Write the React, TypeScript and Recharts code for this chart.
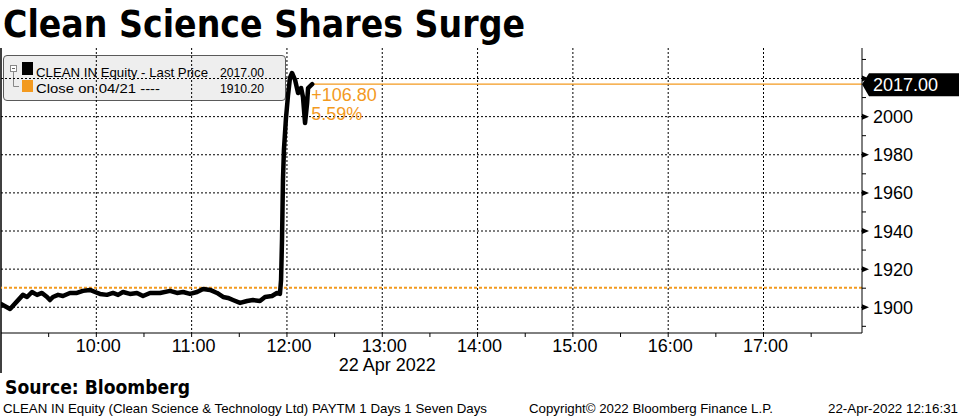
import React from 'react';
import { ComposedChart, Line, XAxis, YAxis, CartesianGrid, ReferenceLine, ReferenceDot, Customized } from 'recharts';

// minutes after 09:00 on 22 Apr 2022
const times = [0, 5.7, 13.8, 16.4, 19.5, 22.7, 25.8, 29.0, 30.8, 32.7, 35.9, 39.0, 43.4, 47.8, 51.6, 56.0, 59.2, 62.3, 66.7, 70.5, 73.7, 76.8, 81.2, 85.6, 89.4, 93.8, 100.1, 106.4, 110.8, 114.6, 119.0, 123.4, 127.2, 131.6, 136.0, 139.8, 142.9, 146.0, 150.5, 154.9, 158.6, 163.0, 166.2, 170.6, 173.7, 175.6, 176.3, 176.9, 177.5, 178.1, 179.4, 180.7, 181.9, 183.2, 185.1, 187.0, 188.9, 190.1, 191.4, 192.7, 193.3, 195.9];
const prices = [1901.7, 1899.1, 1906.5, 1905.4, 1908.0, 1906.5, 1907.5, 1905.4, 1903.8, 1905.4, 1906.5, 1905.9, 1907.5, 1907.5, 1908.6, 1909.1, 1908.0, 1907.0, 1906.5, 1907.5, 1906.5, 1908.0, 1907.0, 1907.5, 1905.9, 1907.5, 1907.5, 1908.6, 1907.5, 1908.0, 1907.0, 1908.0, 1909.6, 1909.1, 1907.5, 1905.4, 1904.9, 1903.8, 1902.3, 1903.3, 1903.8, 1903.3, 1905.4, 1905.9, 1907.5, 1907.0, 1914.3, 1935.3, 1966.8, 1982.5, 1999.3, 2011.4, 2020.3, 2022.9, 2019.3, 2012.4, 2015.0, 2010.3, 1996.6, 2007.1, 2015.0, 2017.0];

const hourTicks = [60, 120, 180, 240, 300, 360, 420, 480];
const hourLabels = ['10:00', '11:00', '12:00', '13:00', '14:00', '15:00', '16:00', '17:00'];
const halfHourTicks = [30, 90, 150, 210, 270, 330, 390, 450, 510];
const dateTick = 240;
const dateLabel = '22 Apr 2022';
const yMajorTicks = [1900, 1920, 1940, 1960, 1980, 2000, 2020];
const yMinorTicks = [1890, 1910, 1930, 1950, 1970, 1990, 2010, 2030];
const prevClose = 1910.2;
const lastPrice = prices[prices.length - 1];
const lastTime = times[times.length - 1];

const title = 'Clean Science Shares Surge';
const legendLast = 'CLEAN IN Equity - Last Price';
const legendClose = 'Close on 04/21 ----';
const sourceText = 'Source: Bloomberg';
const footerLeft = 'CLEAN IN Equity (Clean Science & Technology Ltd) PAYTM 1 Days 1 Seven Days';
const footerMid = 'Copyright\u00A9 2022 Bloomberg Finance L.P.';
const footerRight = '22-Apr-2022 12:16:31';

const ORANGE = '#f39a1f';
const SANS = 'Liberation Sans, Arial, sans-serif';
const BOLD = 'DejaVu Sans, Verdana, sans-serif';

const data = times.map((t, i) => ({ t, price: prices[i] }));
const xTicks = [...halfHourTicks, ...hourTicks].sort((a, b) => a - b);
const yTicks = [...yMajorTicks, ...yMinorTicks].sort((a, b) => a - b).concat([lastPrice]);

const XTick = (props: any) => {
  const { x, y, payload } = props;
  const v = payload.value;
  const idx = hourTicks.indexOf(v);
  return (
    <g>
      <line x1={x} x2={x} y1={y} y2={y + 4} stroke="#000" strokeWidth={1} />
      {idx >= 0 && (
        <text x={x + 2} y={y + 19} textAnchor="middle" fontSize={18} fontFamily={SANS} fill="#000">
          {hourLabels[idx]}
        </text>
      )}
      {v === dateTick && (
        <text x={x + 5} y={y + 38} textAnchor="middle" fontSize={18} fontFamily={SANS} fill="#000">
          {dateLabel}
        </text>
      )}
    </g>
  );
};

const YTick = (props: any) => {
  const { x, y, payload } = props;
  const v = payload.value;
  if (v === lastPrice) {
    return (
      <g>
        <polygon points={`${x},${y} ${x + 7},${y - 11} ${x + 97},${y - 11} ${x + 97},${y + 12} ${x + 7},${y + 12}`} fill="#000" />
        <text x={x + 11} y={y + 6.5} fontSize={18} fontFamily={SANS} fill="#fff">
          {lastPrice.toFixed(2)}
        </text>
      </g>
    );
  }
  const major = yMajorTicks.indexOf(v) >= 0;
  if (!major) {
    return <line x1={x} x2={x + 4} y1={y} y2={y} stroke="#000" strokeWidth={1} />;
  }
  const hidden = Math.abs(v - lastPrice) < 8;
  return (
    <g>
      <polygon points={`${x},${y - 3} ${x + 7},${y} ${x},${y + 3}`} fill="#000" />
      {!hidden && (
        <text x={x + 11} y={y + 6.5} fontSize={18} fontFamily={SANS} fill="#000">
          {v}
        </text>
      )}
    </g>
  );
};

const LastLabel = (props: any) => {
  const { cx, cy } = props;
  const chg = lastPrice - prevClose;
  const pct = (chg / prevClose) * 100;
  return (
    <g>
      <text x={cx - 1} y={cy + 17} fontSize={18} fontFamily={SANS} fill={ORANGE}>{'+' + chg.toFixed(2)}</text>
      <text x={cx - 1} y={cy + 36} fontSize={18} fontFamily={SANS} fill={ORANGE}>{pct.toFixed(2) + '%'}</text>
    </g>
  );
};

const Texts = () => (
  <g>
    <text x={3} y={37} fontSize={37} fontWeight="bold" fontFamily={BOLD} fill="#000" textLength={522} lengthAdjust="spacingAndGlyphs">{title}</text>
    <line x1={1} x2={1} y1={48} y2={373} stroke="#000" strokeWidth={1.5} />
    <text x={5} y={394} fontSize={19} fontWeight="bold" fontFamily={BOLD} fill="#000" textLength={185} lengthAdjust="spacingAndGlyphs">{sourceText}</text>
    <text x={3} y={413} fontSize={13} fontFamily={SANS} fill="#000" textLength={484} lengthAdjust="spacingAndGlyphs">{footerLeft}</text>
    <text x={529} y={413} fontSize={13} fontFamily={SANS} fill="#000" textLength={244} lengthAdjust="spacingAndGlyphs">{footerMid}</text>
    <text x={828} y={413} fontSize={13} fontFamily={SANS} fill="#000" textLength={130} lengthAdjust="spacingAndGlyphs">{footerRight}</text>
  </g>
);

const LegendBox = () => (
  <div style={{ position: 'absolute', left: 3, top: 55, width: 283, height: 46, boxSizing: 'border-box', background: '#eeeeee', border: '1px solid #5a5a5a', borderRadius: 4 }}>
    <svg width={283} height={46} style={{ position: 'absolute', left: -1, top: -1 }}>
      <rect x={7.5} y={10.5} width={6} height={6} fill="#fff" stroke="#888" />
      <line x1={9} x2={12} y1={13.5} y2={13.5} stroke="#666" />
      <line x1={10.5} x2={10.5} y1={17} y2={31.5} stroke="#888" />
      <line x1={10.5} x2={16} y1={31.5} y2={31.5} stroke="#888" />
      <rect x={19} y={7} width={11} height={13} fill="#000" />
      <rect x={19} y={25} width={11} height={12} fill={ORANGE} />
      <text x={33} y={22} fontSize={13.5} fontFamily={SANS} fill="#000" textLength={172} lengthAdjust="spacingAndGlyphs">{legendLast}</text>
      <text x={261} y={22} fontSize={13.5} fontFamily={SANS} fill="#000" textAnchor="end" textLength={44} lengthAdjust="spacingAndGlyphs">{lastPrice.toFixed(2)}</text>
      <text x={33} y={38} fontSize={13.5} fontFamily={SANS} fill="#000" textLength={124} lengthAdjust="spacingAndGlyphs">{legendClose}</text>
      <text x={261} y={38} fontSize={13.5} fontFamily={SANS} fill="#000" textAnchor="end" textLength={44} lengthAdjust="spacingAndGlyphs">{prevClose.toFixed(2)}</text>
    </svg>
  </div>
);

export default function App() {
  return (
    <div style={{ position: 'absolute', left: 0, top: 0, width: 959, height: 417, background: '#fff', overflow: 'hidden' }}>
      <LegendBox />
      <div style={{ position: 'absolute', left: 0, top: 0 }}>
        <ComposedChart width={959} height={417} data={data} margin={{ top: 48, right: 0, bottom: 40, left: 1 }}>
          <CartesianGrid stroke="#000" strokeDasharray="2 2" horizontalValues={yMajorTicks} verticalValues={hourTicks} />
          <XAxis dataKey="t" type="number" domain={[0, 542]} ticks={xTicks} interval={0} height={44} tickSize={0} tickMargin={0} axisLine={{ stroke: '#000' }} tickLine={false} tick={<XTick />} allowDataOverflow />
          <YAxis orientation="right" type="number" domain={[1886.5, 2036]} ticks={yTicks} interval={0} width={97} tickSize={0} tickMargin={0} axisLine={{ stroke: '#000' }} tickLine={false} tick={<YTick />} allowDataOverflow />
          <ReferenceLine y={prevClose} stroke={ORANGE} strokeWidth={2} strokeDasharray="3 2" />
          <ReferenceLine segment={[{ x: lastTime, y: lastPrice }, { x: 542, y: lastPrice }]} stroke={ORANGE} strokeWidth={1.2} />
          <Line dataKey="price" stroke="#000" strokeWidth={4.5} dot={false} isAnimationActive={false} strokeLinejoin="round" strokeLinecap="round" />
          <ReferenceDot x={lastTime} y={lastPrice} r={0} shape={<LastLabel />} />
          <Customized component={<Texts />} />
        </ComposedChart>
      </div>
    </div>
  );
}
